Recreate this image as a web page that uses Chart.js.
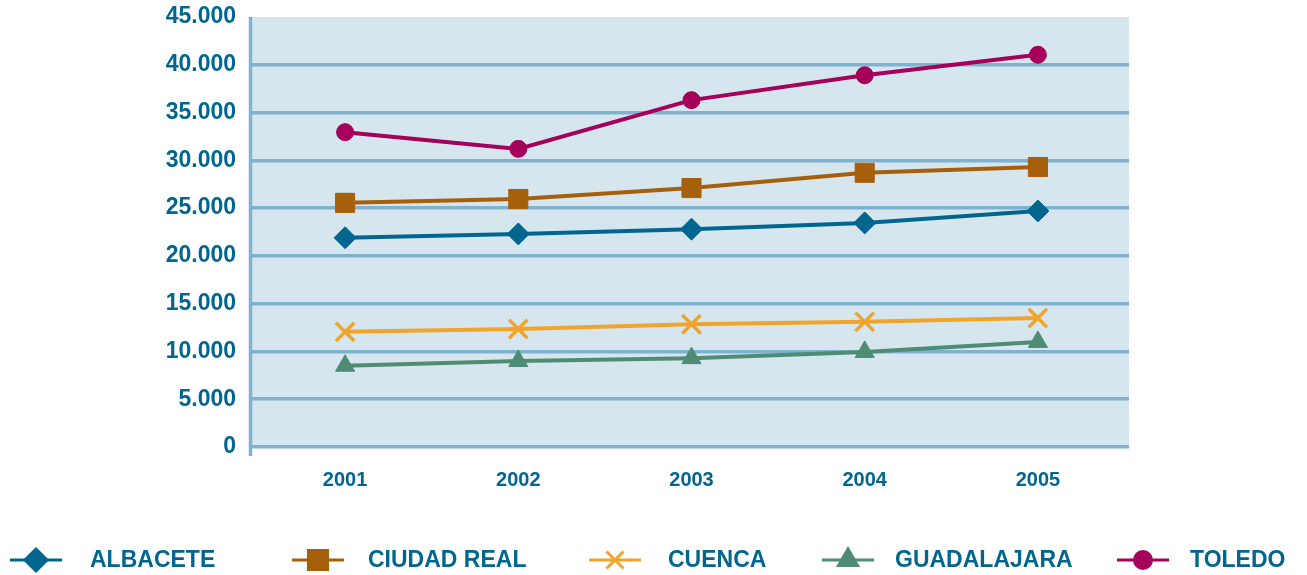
<!DOCTYPE html>
<html>
<head>
<meta charset="utf-8">
<script src="https://cdn.jsdelivr.net/npm/chart.js@4/dist/chart.umd.min.js"></script>
<style>
html,body{margin:0;padding:0;background:#fff;}
#wrap{width:1307px;height:575px;position:relative;}
</style>
</head>
<body>
<div id="wrap"><canvas id="c" width="1307" height="575"></canvas></div>
<script>
const years = ['2001','2002','2003','2004','2005'];
const albacete    = [21900, 22300, 22800, 23450, 24700];
const ciudadReal  = [25550, 25950, 27100, 28700, 29300];
const cuenca      = [12050, 12350, 12850, 13100, 13500];
const guadalajara = [8500, 9000, 9300, 9950, 11000];
const toledo      = [32950, 31200, 36300, 38900, 41050];
const seriesNames = ['ALBACETE','CIUDAD REAL','CUENCA','GUADALAJARA','TOLEDO'];
const yTickLabels = ['0','5.000','10.000','15.000','20.000','25.000','30.000','35.000','40.000','45.000'];

const TEXT = '#00668F';
const GRID = '#7FB2CE';
const BG = '#D6E6EF';
const FONT = '"Liberation Sans", Arial, sans-serif';

const styles = [
  {color:'#00668F', pointStyle:'rectRot', radius:11, lx:36, tx:90},
  {color:'#A65F0B', pointStyle:'rect', radius:13.5, lx:318, tx:368},
  {color:'#F0A42C', pointStyle:'crossRot', radius:13, lx:615, tx:668},
  {color:'#4E8C74', pointStyle:'triangle', radius:11, lx:848, tx:895},
  {color:'#A5005A', pointStyle:'circle', radius:8.5, lx:1143, tx:1190}
];
const dataArrays = [albacete, ciudadReal, cuenca, guadalajara, toledo];

const bgPlugin = {
  id:'bg',
  afterLayout(chart){
    // category bands slightly inset from the shaded plot area
    const x = chart.scales.x;
    x._startPixel += 6.5;
    x._length -= 11;
    x._endPixel = x._startPixel + x._length;
  },
  beforeDraw(chart){
    const {ctx, chartArea:a} = chart;
    ctx.save();
    ctx.fillStyle = BG;
    ctx.fillRect(a.left, a.top, a.right - a.left, a.bottom - a.top);
    ctx.restore();
  },
  beforeDatasetsDraw(chart){
    const {ctx, chartArea:a} = chart;
    ctx.save();
    ctx.strokeStyle = GRID;
    ctx.lineWidth = 3.5;
    ctx.beginPath();
    ctx.moveTo(a.left - 1.5, a.top);
    ctx.lineTo(a.left - 1.5, a.bottom + 9);
    ctx.stroke();
    ctx.restore();
  }
};

const legendPlugin = {
  id:'customLegend',
  afterDraw(chart){
    const ctx = chart.ctx;
    const y = 560;
    ctx.save();
    chart.data.datasets.forEach((ds, i) => {
      const s = styles[i];
      ctx.strokeStyle = s.color;
      ctx.lineWidth = 3;
      ctx.beginPath();
      ctx.moveTo(s.lx - 26, y);
      ctx.lineTo(s.lx + 26, y);
      ctx.stroke();
      ctx.fillStyle = s.color;
      ctx.strokeStyle = s.color;
      Chart.helpers.drawPoint(ctx, {pointStyle:s.pointStyle, radius: s.pointStyle==='crossRot' ? 12 : s.radius, rotation:0, borderWidth: s.pointStyle==='crossRot' ? 2.5 : 1}, s.lx, y);
      ctx.fillStyle = TEXT;
      ctx.font = 'bold 23px ' + FONT;
      ctx.textBaseline = 'middle';
      ctx.textAlign = 'left';
      ctx.fillText(ds.label, s.tx, y + 1);
    });
    ctx.restore();
  }
};

new Chart(document.getElementById('c'), {
  type:'line',
  data:{
    labels: years,
    datasets: dataArrays.map((d, i) => ({
      label: seriesNames[i],
      data: d,
      borderColor: styles[i].color,
      backgroundColor: styles[i].color,
      pointBackgroundColor: styles[i].color,
      pointBorderColor: styles[i].color,
      pointStyle: styles[i].pointStyle,
      pointRadius: styles[i].radius,
      pointBorderWidth: styles[i].pointStyle === 'crossRot' ? 3.5 : 1,
      borderWidth: 4,
      tension: 0,
      fill: false
    }))
  },
  options:{
    responsive:false,
    animation:false,
    devicePixelRatio:1,
    layout:{padding:{top:17, right:178, left:0, bottom:0}},
    plugins:{legend:{display:false}, tooltip:{enabled:false}},
    scales:{
      x:{
        offset:true,
        grid:{display:false, drawTicks:false},
        border:{display:false},
        ticks:{color:TEXT, font:{family:FONT, size:20, weight:'bold'}, padding:21},
        afterFit(scale){ scale.height = 128; scale.paddingLeft = 0; scale.paddingRight = 0; }
      },
      y:{
        min:0, max:45000,
        grid:{
          color:(c) => (c.tick && c.tick.value === 45000) ? 'rgba(0,0,0,0)' : GRID,
          lineWidth:3.5,
          drawTicks:false
        },
        border:{display:false},
        ticks:{
          stepSize:5000,
          color:TEXT,
          font:{family:FONT, size:23, weight:'bold'},
          padding:16,
          callback:(v) => yTickLabels[Math.round(v/5000)]
        },
        afterFit(scale){ scale.width = 252; scale.paddingTop = 0; scale.paddingBottom = 0; }
      }
    }
  },
  plugins:[bgPlugin, legendPlugin]
});
</script>
</body>
</html>
